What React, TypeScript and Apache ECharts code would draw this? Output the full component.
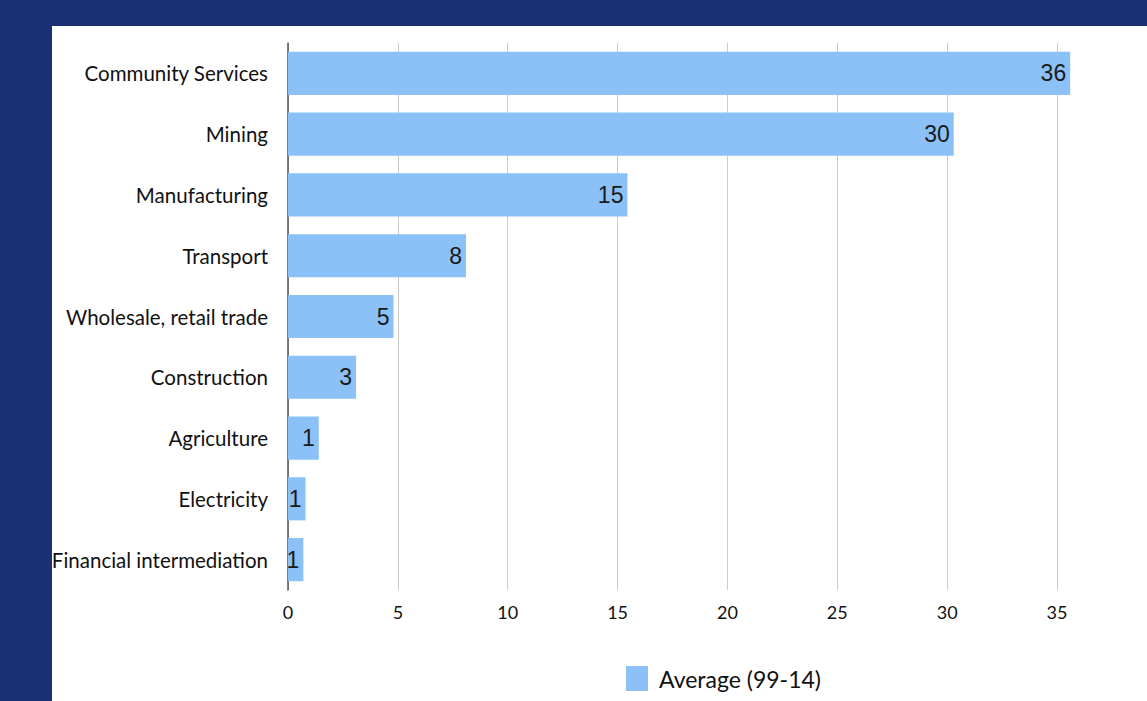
import React, { useEffect, useRef } from "react";
import * as echarts from "echarts";

const categories = [
  "Community Services",
  "Mining",
  "Manufacturing",
  "Transport",
  "Wholesale, retail trade",
  "Construction",
  "Agriculture",
  "Electricity",
  "Financial intermediation",
];
const averageValues = [35.6, 30.3, 15.45, 8.1, 4.8, 3.1, 1.4, 0.8, 0.7];
const seriesName = "Average (99-14)";

export default function App() {
  const ref = useRef<HTMLDivElement>(null);
  useEffect(() => {
    document.body.style.margin = "0";
    const chart = echarts.init(ref.current!, null, { renderer: "svg" });
    chart.setOption({
      animation: false,
      backgroundColor: "#1c3075",
      graphic: [
        {
          type: "rect",
          z: -10,
          shape: { x: 52, y: 26, width: 1200, height: 700 },
          style: { fill: "#ffffff" },
          silent: true,
        },
      ],
      grid: { left: 288, top: 43, right: 90, bottom: 111 },
      legend: {
        data: [{ name: seriesName, icon: "rect" }],
        left: 621,
        top: 661,
        itemWidth: 22,
        itemHeight: 25,
        itemGap: 10,
        textStyle: { fontFamily: "Lato", fontSize: 23, color: "#111", padding: [0, 0, 0, 6] },
      },
      xAxis: {
        type: "value",
        min: 0,
        max: 35,
        interval: 5,
        axisLine: { show: false },
        axisTick: { show: false },
        splitLine: { lineStyle: { color: "#cccccc", width: 1 } },
        axisLabel: { fontFamily: "Lato", fontSize: 18, color: "#111", margin: 13 },
      },
      yAxis: {
        type: "category",
        inverse: true,
        data: categories,
        axisLine: { show: true, lineStyle: { color: "#555", width: 1.5 } },
        axisTick: { show: false },
        axisLabel: { fontFamily: "Lato", fontSize: 20.5, color: "#111", margin: 20 },
      },
      series: [
        {
          name: seriesName,
          type: "bar",
          data: averageValues,
          clip: false,
          barCategoryGap: "29%",
          itemStyle: { color: "#8bc1f7" },
          label: {
            show: true,
            position: "insideRight",
            distance: 4,
            fontFamily: "Liberation Sans",
            fontSize: 23,
            color: "#1a1a1a",
            formatter: (p: any) => String(Math.round(p.value)),
          },
        },
      ],
    });
    return () => chart.dispose();
  }, []);
  return <div ref={ref} style={{ width: 1147, height: 701 }} />;
}
